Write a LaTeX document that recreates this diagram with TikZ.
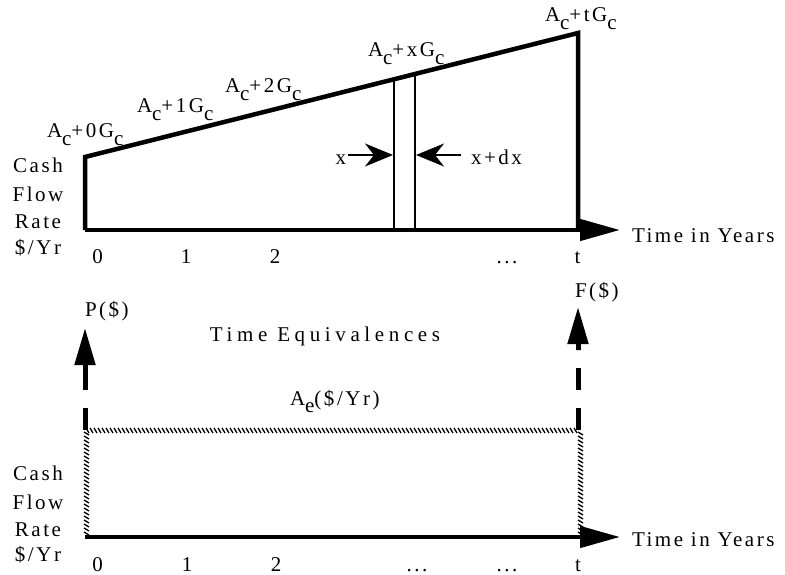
\documentclass[tikz,border=0pt]{standalone}
\usepackage{fontspec}
\setmainfont{Liberation Serif}[LetterSpace=12]
\usetikzlibrary{arrows.meta}
\newcommand\lsub[1]{\raisebox{-0.38em}{#1}}
\begin{document}
\begin{tikzpicture}[x=1pt,y=-1pt,
  lbl/.style={inner sep=0pt,outer sep=0pt,font=\fontsize{21}{25}\selectfont},
  heavy/.style={line width=4.5pt},
  fine/.style={line width=2pt},
  hatchline/.style={line width=1.3pt},
  dashpart/.style={line width=5pt,dash pattern=on 22pt off 18pt},
  axisarrow/.style={heavy,-{Triangle[length=40pt,width=21pt]}},
  smallarrow/.style={fine,-{Stealth[length=28pt,width=23pt,inset=9pt]}},
  uparrow/.style={line width=5pt,-{Triangle[length=37pt,width=20pt]}},
]
\useasboundingbox (0,0) rectangle (785,575);

% ---------- top diagram ----------
\coordinate (BL) at (85,230);
\coordinate (TL) at (85,157);
\coordinate (TR) at (578,33);
\coordinate (BR) at (578,230);
\coordinate (AT) at (620,230);
\draw[heavy,line join=miter] (BL) -- (TL) -- (TR) -- (BR);
\draw[axisarrow] (BL) -- (AT);

\coordinate (v1t) at (394,78);
\coordinate (v1b) at (394,230);
\coordinate (v2t) at (415,73);
\coordinate (v2b) at (415,230);
\draw[fine] (v1t) -- (v1b);
\draw[fine] (v2t) -- (v2b);

\node[lbl,anchor=base east] (xt) at (346,165) {x};
\node[lbl,anchor=base west] (xdx) at (471,165) {x+dx};
\coordinate (xs) at (348,155);
\coordinate (xe) at (393,155);
\coordinate (ds) at (461,155);
\coordinate (de) at (416,155);
\draw[smallarrow] (xs) -- (xe);
\draw[smallarrow] (ds) -- (de);

\node[lbl,anchor=base west] (g0) at (47,138) {A\lsub{c}+0G\lsub{c}};
\node[lbl,anchor=base west] (g1) at (137,113) {A\lsub{c}+1G\lsub{c}};
\node[lbl,anchor=base west] (g2) at (225,93) {A\lsub{c}+2G\lsub{c}};
\node[lbl,anchor=base west] (gx) at (368,57) {A\lsub{c}+xG\lsub{c}};
\node[lbl,anchor=base west] (gt) at (545,22) {A\lsub{c}+tG\lsub{c}};

\node[lbl,anchor=base] (c1) at (38,173) {Cash};
\node[lbl,anchor=base] (c2) at (38,202) {Flow};
\node[lbl,anchor=base] (c3) at (38,229) {Rate};
\node[lbl,anchor=base] (c4) at (38,254) {\$/Yr};

\node[lbl,anchor=base] (t0) at (97.5,263) {0};
\node[lbl,anchor=base] (t1) at (186,263) {1};
\node[lbl,anchor=base] (t2) at (275,263) {2};
\node[lbl,anchor=base] (td) at (507,263) {...};
\node[lbl,anchor=base] (tt) at (577.5,263) {t};
\node[lbl,anchor=base west] (ty) at (632,242) {Time in Years};

% ---------- middle ----------
\node[lbl,anchor=base west] (P) at (85,316) {P(\$)};
\node[lbl,anchor=base west] (F) at (575,297) {F(\$)};
\node[lbl,anchor=base] (eq) at (325,341) {\addfontfeature{LetterSpace=22}Time Equivalences};
\node[lbl,anchor=base west] (Ae) at (290,405) {A\lsub{e}(\$/Yr)};

\coordinate (Pb) at (85,430);
\coordinate (Pm) at (85,368);
\coordinate (Pt) at (85,328);
\draw[dashpart] (Pb) -- (Pm);
\draw[uparrow] (Pm) -- (Pt);

\coordinate (Fb) at (578,430);
\coordinate (Fm) at (578,350);
\coordinate (Ft) at (578,307);
\draw[dashpart] (Fb) -- (Fm);
\draw[uparrow] (Fm) -- (Ft);

% ---------- bottom diagram ----------
\foreach \i in {86,90,...,574} \draw[hatchline] (\i,428) -- (\i+3,433);
\foreach \j in {432,436,...,534} \draw[hatchline] (84,\j) -- (89,\j+3);
\foreach \j in {432,436,...,534} \draw[hatchline] (578,\j) -- (583,\j+3);

\coordinate (BB) at (85,537);
\coordinate (BT) at (620,537);
\draw[axisarrow] (BB) -- (BT);

\node[lbl,anchor=base] (d1) at (38,480) {Cash};
\node[lbl,anchor=base] (d2) at (38,509) {Flow};
\node[lbl,anchor=base] (d3) at (38,536) {Rate};
\node[lbl,anchor=base] (d4) at (38,561) {\$/Yr};

\node[lbl,anchor=base] (b0) at (97.5,571) {0};
\node[lbl,anchor=base] (b1) at (187,571) {1};
\node[lbl,anchor=base] (b2) at (276,571) {2};
\node[lbl,anchor=base] (bd1) at (417,571) {...};
\node[lbl,anchor=base] (bd2) at (507,571) {...};
\node[lbl,anchor=base] (bt) at (578,571) {t};
\node[lbl,anchor=base west] (by) at (632,546) {Time in Years};
\end{tikzpicture}
\end{document}
